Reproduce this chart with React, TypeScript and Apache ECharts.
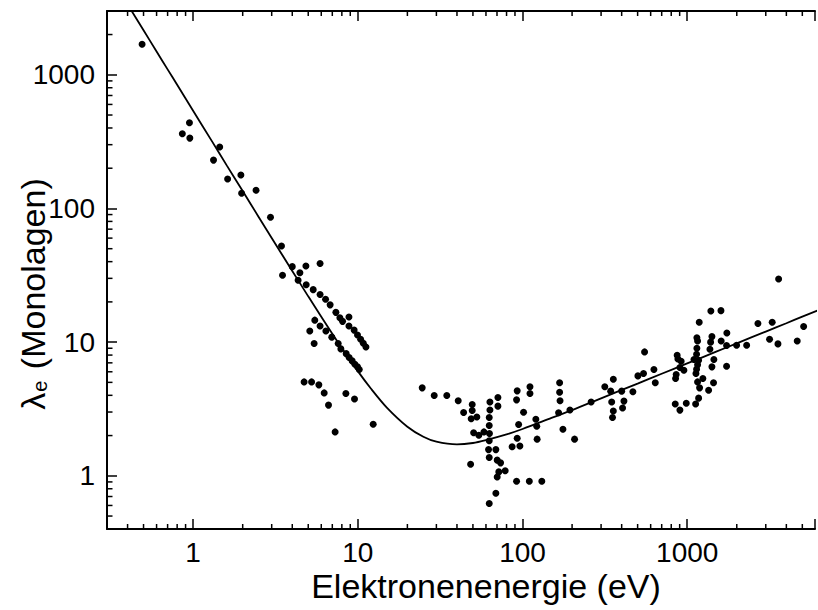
import { useEffect, useRef } from 'react';
import * as echarts from 'echarts';

// Axis ranges and tick labels
const X_MIN = 0.3;
const X_MAX = 5970;
const Y_MIN = 0.4;
const Y_MAX = 3000;
const xTickLabels = ['1', '10', '100', '1000'];
const yTickLabels = ['1', '10', '100', '1000'];
const xMinorTicks = [
  0.4, 0.5, 0.6, 0.7, 0.8, 0.9,
  2, 3, 4, 5, 6, 7, 8, 9,
  20, 30, 40, 50, 60, 70, 80, 90,
  200, 300, 400, 500, 600, 700, 800, 900,
  2000, 3000, 4000, 5000,
];
const yMinorTicks = [
  0.5, 0.6, 0.7, 0.8, 0.9,
  2, 3, 4, 5, 6, 7, 8, 9,
  20, 30, 40, 50, 60, 70, 80, 90,
  200, 300, 400, 500, 600, 700, 800, 900,
  2000,
];

// Measured points [energy eV, lambda monolayers]
const lowEnergyPoints = [
  [0.49, 1690], [0.86, 362], [0.95, 438], [0.955, 336], [1.33, 230], [1.45, 288],
  [1.62, 166], [1.95, 178], [1.97, 130], [2.41, 137], [2.95, 86], [3.44, 52.4],
  [3.49, 31.6], [4.0, 36.7], [4.45, 33], [4.34, 29], [4.84, 37.1], [5.9, 38.7],
  [4.86, 26.9], [5.36, 24.7], [5.9, 22.7], [6.37, 20.9], [6.79, 19], [7.36, 16.7],
  [7.78, 15.2], [8.08, 14.3], [8.83, 15.4], [8.83, 13.2], [9.5, 12.3], [9.96, 11.3],
  [10.4, 10.5], [10.8, 9.8], [11.2, 9.2], [5.48, 14.6], [5.11, 12.1], [5.43, 9.77],
  [5.9, 13.2], [6.4, 12.1], [6.95, 10.9], [7.6, 9.77], [7.89, 8.9], [8.5, 8.2],
  [8.86, 7.67], [9.24, 7.24], [9.6, 6.83], [9.96, 6.53], [10.2, 6.24], [4.72, 5.04],
  [5.24, 5.04], [5.8, 4.79], [6.25, 4.17], [6.64, 3.38], [8.46, 4.13], [9.55, 3.76],
  [7.28, 2.13], [12.4, 2.43],
];
const midEnergyPoints = [
  [24.6, 4.55], [29.1, 3.99], [34.7, 3.99], [40.7, 3.64], [43.9, 2.98], [49.5, 3.42],
  [49.5, 3.08], [48.8, 2.67], [52.8, 2.75], [50.5, 2.1], [54.3, 2.01], [58.3, 2.13],
  [63.4, 3.57], [63.4, 3.11], [62.8, 2.73], [62.8, 2.38], [63, 2.07], [62.8, 1.83],
  [62.2, 1.57], [68.9, 1.57], [62.8, 1.37], [70.2, 1.31], [73.6, 1.25], [48.4, 1.22],
  [78.5, 1.09], [71.8, 1.07], [70.2, 0.98], [68.9, 0.74], [62.8, 0.62], [70.9, 3.85],
  [70.9, 3.32], [92, 0.91], [110, 0.91], [131, 0.91], [86.5, 1.65], [96.4, 1.67],
  [92.8, 1.91], [94.7, 2.42], [101.5, 2.99], [92, 3.7], [92.8, 4.32], [111, 4.63],
  [111, 4.13], [120.5, 2.65], [122, 2.35], [122.7, 1.88], [168, 4.96], [168, 4.22],
  [169, 3.64], [165.6, 2.96], [176, 2.23], [194, 3.11], [207, 1.88], [261, 3.57],
];
const highEnergyPoints = [
  [316, 4.63], [356, 5.28], [343, 4.3], [348, 3.57], [356, 3.05], [352, 2.73],
  [413, 3.62], [405, 3.22], [400, 4.3], [468, 4.25], [502, 5.59], [543, 5.82],
  [551, 8.45], [628, 6.24], [640, 4.96], [846, 3.45], [903, 3.1], [987, 3.49],
  [850, 5.35], [857, 5.73], [869, 7.98], [878, 7.49], [919, 7.2], [903, 6.46],
  [955, 6.17], [1125, 3.44], [1173, 3.81], [1189, 4.55], [1245, 5.35], [1349, 4.37],
  [1445, 4.96], [1156, 5.04], [1130, 5.82], [1140, 6.27], [1156, 6.76], [1173, 7.32],
  [1099, 7.41], [1140, 8.12], [1145, 9.0], [1156, 10.2], [1145, 10.8], [1183, 14.1],
  [1392, 17.1], [1603, 17.2], [1413, 11.0], [1387, 10.0], [1374, 8.85], [1452, 7.41],
  [1413, 6.53], [1741, 11.7], [1608, 10.2], [1734, 9.44], [1734, 6.6], [1995, 9.48],
  [2296, 9.48], [2688, 13.8], [3281, 14.1], [3162, 10.5], [3556, 9.7], [3590, 29.7],
  [4656, 10.2], [5093, 13.1],
];

// Universal curve, points
const curveEnergy = [
  0.42, 0.5, 0.6, 0.7, 0.8, 1, 1.3, 1.6, 2, 2.5, 3, 4, 5, 6, 7, 8, 10, 12, 15, 20,
  25, 30, 40, 50, 60, 80, 100, 150, 200, 300, 500, 700, 1000, 1500, 2000, 3000, 4000,
  5000, 6240,
];
const curveLambda = [
  3050, 2152, 1494, 1098, 841, 538, 319, 210, 135, 86.4, 60.2, 34.1, 22.0, 15.5,
  11.56, 9.03, 6.07, 4.5, 3.24, 2.33, 1.96, 1.8, 1.72, 1.76, 1.85, 2.04, 2.24, 2.71,
  3.1, 3.8, 4.9, 5.8, 6.93, 8.48, 9.79, 12.0, 13.85, 15.5, 17.3,
];

const FONT = "'Liberation Sans', Arial, Helvetica, sans-serif";

const labelFor = (labels: string[]) => (v: number) => {
  const hit = labels.find((l) => Math.abs(Number(l) - v) / Number(l) < 1e-6);
  return hit ?? '';
};

const mkLine = () => ({ show: true, lineStyle: { color: '#000', width: 2 } });
const mkTick = () => ({ show: true, inside: true, length: 10, lineStyle: { color: '#000', width: 1.5 } });

export default function App() {
  const ref = useRef<HTMLDivElement>(null);
  useEffect(() => {
    document.body.style.margin = '0';
    if (!ref.current) return;
    const chart = echarts.init(ref.current, undefined, { renderer: 'svg' });
    chart.setOption({
      animation: false,
      backgroundColor: '#fff',
      grid: { left: 107, top: 11, right: 0, bottom: 81 },
      xAxis: [
        {
          type: 'log', min: X_MIN, max: X_MAX, position: 'bottom',
          axisLine: mkLine(), axisTick: mkTick(), splitLine: { show: false },
          axisLabel: { color: '#000', fontSize: 28, fontFamily: FONT, margin: 9, formatter: labelFor(xTickLabels) },
          name: 'Elektronenenergie (eV)', nameLocation: 'middle', nameGap: 40, nameMoveOverlap: false,
          nameTextStyle: { color: '#000', fontSize: 34, fontFamily: FONT, padding: [0, 0, 0, 50] },
        },
        {
          type: 'log', min: X_MIN, max: X_MAX, position: 'top',
          axisLine: mkLine(), axisTick: mkTick(), splitLine: { show: false }, axisLabel: { show: false },
        },
      ],
      yAxis: [
        {
          type: 'log', min: Y_MIN, max: Y_MAX, position: 'left',
          axisLine: mkLine(), axisTick: mkTick(), splitLine: { show: false },
          axisLabel: { color: '#000', fontSize: 28, fontFamily: FONT, margin: 12, formatter: labelFor(yTickLabels) },
          name: '{l|λ}{s|e} (Monolagen)', nameLocation: 'middle', nameGap: 57, nameMoveOverlap: false,
          nameTextStyle: {
            color: '#000', fontSize: 34, fontFamily: FONT, padding: [0, 48, 0, 0],
            rich: {
              l: { fontSize: 34, fontFamily: FONT, color: '#000' },
              s: { fontSize: 20, fontFamily: FONT, color: '#000', verticalAlign: 'bottom', padding: [0, 2, 0, 1] },
            },
          },
        },
      ],
      series: [
        {
          type: 'custom', xAxisIndex: 0, yAxisIndex: 0,
          data: xMinorTicks.map((v) => [v, 1]),
          renderItem: (_p: any, api: any) => {
            const v = api.value(0);
            const b = api.coord([v, Y_MIN]);
            const t = api.coord([v, Y_MAX]);
            return {
              type: 'group',
              children: [
                { type: 'line', shape: { x1: b[0], y1: b[1], x2: b[0], y2: b[1] - 5 }, style: { stroke: '#000', lineWidth: 1.5 } },
                { type: 'line', shape: { x1: t[0], y1: t[1], x2: t[0], y2: t[1] + 5 }, style: { stroke: '#000', lineWidth: 1.5 } },
              ],
            };
          },
        },
        {
          type: 'custom', xAxisIndex: 0, yAxisIndex: 0,
          data: yMinorTicks.map((v) => [1, v]),
          renderItem: (_p: any, api: any) => {
            const v = api.value(1);
            const l = api.coord([X_MIN, v]);
            return { type: 'line', shape: { x1: l[0], y1: l[1], x2: l[0] + 5.5, y2: l[1] }, style: { stroke: '#000', lineWidth: 1.5 } };
          },
        },
        {
          type: 'line', xAxisIndex: 0, yAxisIndex: 0,
          data: curveEnergy.map((e, i) => [e, curveLambda[i]]),
          showSymbol: false, symbol: 'none', smooth: 0.3,
          lineStyle: { color: '#000', width: 1.8 },
        },
        {
          type: 'scatter', xAxisIndex: 0, yAxisIndex: 0,
          data: [...lowEnergyPoints, ...midEnergyPoints, ...highEnergyPoints],
          symbol: 'circle', symbolSize: 7,
          itemStyle: { color: '#000', opacity: 1 },
        },
      ],
    });
    return () => chart.dispose();
  }, []);
  return <div ref={ref} style={{ width: 818, height: 610 }} />;
}
